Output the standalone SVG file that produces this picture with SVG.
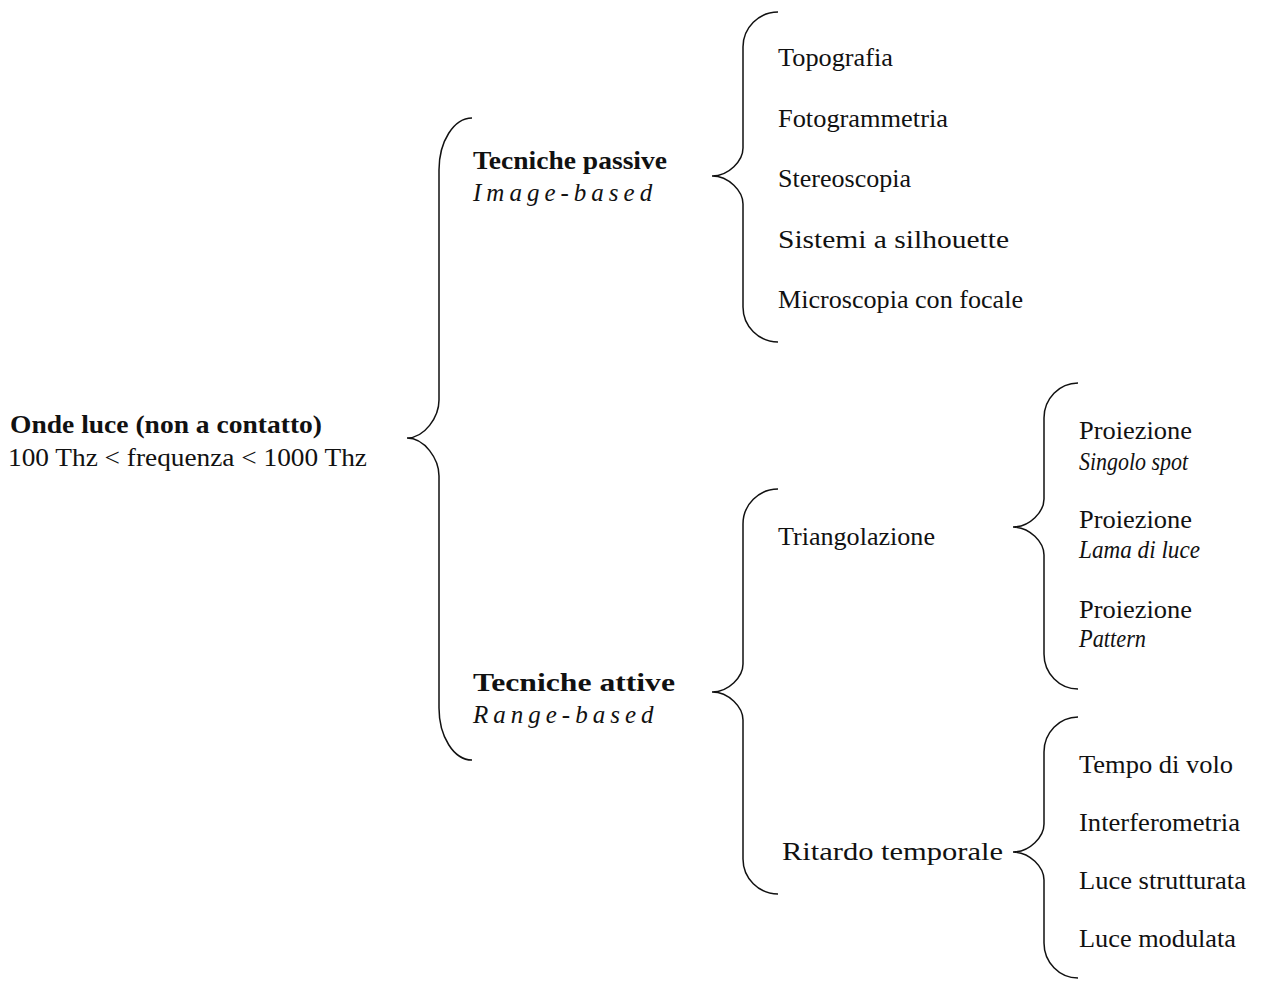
<svg xmlns="http://www.w3.org/2000/svg" width="1263" height="981" viewBox="0 0 1263 981">
<style>
text{font-family:"Liberation Serif","Times New Roman",serif;font-size:25px;fill:#111}
.b{font-weight:bold}
.i{font-style:italic}
.sp{font-style:italic;letter-spacing:5px}
.br{fill:none;stroke:#111;stroke-width:1.5}
</style>
<rect width="1263" height="981" fill="#fff"/>
<g id="connectors">
<path class="br" d="M472,118 C453.9,118 439,141.4 439,170 L439,400 C439,417 424.6,438 407,438 C424.6,438 439,459 439,476 L439,708 C439,736.6 453.9,760 472,760"/>
<path class="br" d="M778,12 C758.8,12 743,27.8 743,47 L743,148 C743,160.6 729,176 712,176 C729,176 743,191.4 743,204 L743,307 C743,326.3 758.8,342 778,342"/>
<path class="br" d="M778,489 C758.8,489 743,504.8 743,524 L743,664 C743,676.6 729,692 712,692 C729,692 743,707.4 743,720 L743,859 C743,878.3 758.8,894 778,894"/>
<path class="br" d="M1078,383 C1059.3,383 1044,398.8 1044,418 L1044,499 C1044,511.6 1030,527 1013,527 C1030,527 1044,542.4 1044,555 L1044,654 C1044,673.3 1059.3,689 1078,689"/>
<path class="br" d="M1078,717 C1059.3,717 1044,732.8 1044,752 L1044,824 C1044,836.6 1030,852 1013,852 C1030,852 1044,867.4 1044,880 L1044,943 C1044,962.3 1059.3,978 1078,978"/>
</g>
<g id="root">
<text class="b" x="10" y="433" textLength="312" lengthAdjust="spacingAndGlyphs">Onde luce (non a contatto)</text>
<text x="8" y="466" textLength="359" lengthAdjust="spacingAndGlyphs">100 Thz &lt; frequenza &lt; 1000 Thz</text>
</g>
<g id="passive">
<text class="b" x="473" y="169" textLength="194" lengthAdjust="spacingAndGlyphs">Tecniche passive</text>
<text class="sp" x="473" y="201">Image-based</text>
</g>
<g id="active">
<text class="b" x="473" y="691" textLength="202" lengthAdjust="spacingAndGlyphs">Tecniche attive</text>
<text class="sp" x="473" y="723">Range-based</text>
</g>
<g id="topografia"><text x="778" y="66" textLength="115" lengthAdjust="spacingAndGlyphs">Topografia</text></g>
<g id="fotogrammetria"><text x="778" y="127" textLength="170" lengthAdjust="spacingAndGlyphs">Fotogrammetria</text></g>
<g id="stereoscopia"><text x="778" y="187" textLength="133" lengthAdjust="spacingAndGlyphs">Stereoscopia</text></g>
<g id="silhouette"><text x="778" y="248" textLength="231" lengthAdjust="spacingAndGlyphs">Sistemi a silhouette</text></g>
<g id="microscopia"><text x="778" y="308" textLength="245" lengthAdjust="spacingAndGlyphs">Microscopia con focale</text></g>
<g id="triangolazione"><text x="778" y="545" textLength="157" lengthAdjust="spacingAndGlyphs">Triangolazione</text></g>
<g id="ritardo"><text x="782" y="860" textLength="221" lengthAdjust="spacingAndGlyphs">Ritardo temporale</text></g>
<g id="proiezione-spot">
<text x="1079" y="439" textLength="113" lengthAdjust="spacingAndGlyphs">Proiezione</text>
<text class="i" x="1079" y="470" textLength="109" lengthAdjust="spacingAndGlyphs">Singolo spot</text>
</g>
<g id="proiezione-lama">
<text x="1079" y="528" textLength="113" lengthAdjust="spacingAndGlyphs">Proiezione</text>
<text class="i" x="1079" y="558" textLength="121" lengthAdjust="spacingAndGlyphs">Lama di luce</text>
</g>
<g id="proiezione-pattern">
<text x="1079" y="618" textLength="113" lengthAdjust="spacingAndGlyphs">Proiezione</text>
<text class="i" x="1079" y="647" textLength="67" lengthAdjust="spacingAndGlyphs">Pattern</text>
</g>
<g id="tempo"><text x="1079" y="773" textLength="154" lengthAdjust="spacingAndGlyphs">Tempo di volo</text></g>
<g id="interferometria"><text x="1079" y="831" textLength="161" lengthAdjust="spacingAndGlyphs">Interferometria</text></g>
<g id="strutturata"><text x="1079" y="889" textLength="167" lengthAdjust="spacingAndGlyphs">Luce strutturata</text></g>
<g id="modulata"><text x="1079" y="947" textLength="157" lengthAdjust="spacingAndGlyphs">Luce modulata</text></g>
</svg>
